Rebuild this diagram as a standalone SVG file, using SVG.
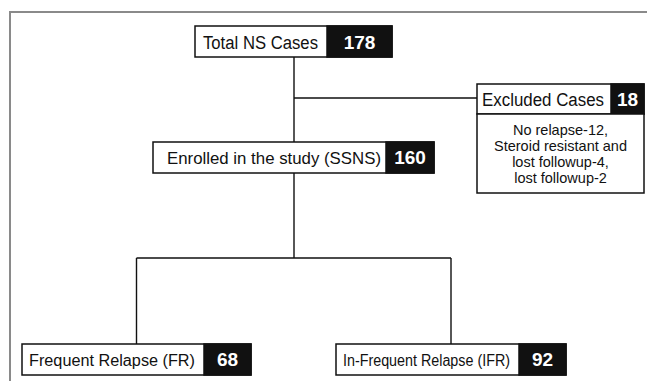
<svg xmlns="http://www.w3.org/2000/svg" width="647" height="381" viewBox="0 0 647 381">
<style>
.box{fill:#fff;stroke:#111;stroke-width:1.5}
.blk{fill:#111;stroke:#111;stroke-width:1.5}
.lbl{font-family:"Liberation Sans",Arial,sans-serif;font-size:18px;fill:#111}
.sm{font-size:16px}
.num{font-family:"Liberation Sans",Arial,sans-serif;font-size:19px;font-weight:bold;fill:#fff;text-anchor:middle}
.body{font-family:"Liberation Sans",Arial,sans-serif;font-size:14.5px;fill:#111;text-anchor:middle}
.conn{stroke:#111;stroke-width:1.4;fill:none}
.frame{stroke:#8a8a8a;stroke-width:2;fill:none}
</style>
<rect width="647" height="381" fill="#fff"/>
<path class="frame" d="M10,381 V12 H647"/>
<g id="connectors">
<path class="conn" d="M294,57 V142 M294,98 H477 M294,173 V258 M136.5,258 H451 M136.5,258 V344 M451,258 V344"/>
</g>
<g id="total">
<rect class="box" x="195" y="26" width="197" height="31"/>
<rect class="blk" x="327" y="26" width="65" height="31"/>
<text class="lbl" x="203" y="48.5" textLength="115" lengthAdjust="spacingAndGlyphs">Total NS Cases</text>
<text class="num" x="359.5" y="48.5">178</text>
</g>
<g id="excluded">
<rect class="box" x="477" y="84" width="167" height="30"/>
<rect class="blk" x="611" y="84" width="33" height="30"/>
<rect class="box" x="477" y="114" width="167" height="79"/>
<text class="lbl" x="482" y="106" textLength="122" lengthAdjust="spacingAndGlyphs">Excluded Cases</text>
<text class="num" x="627.5" y="106">18</text>
<text class="body" x="560.5" y="135">No relapse-12,</text>
<text class="body" x="560.5" y="151">Steroid resistant and</text>
<text class="body" x="560.5" y="167">lost followup-4,</text>
<text class="body" x="560.5" y="183">lost followup-2</text>
</g>
<g id="enrolled">
<rect class="box" x="153" y="142" width="281" height="31"/>
<rect class="blk" x="386" y="142" width="48" height="31"/>
<text class="lbl" x="167" y="164" style="font-size:17px" textLength="214" lengthAdjust="spacingAndGlyphs">Enrolled in the study (SSNS)</text>
<text class="num" x="410" y="164">160</text>
</g>
<g id="fr">
<rect class="box" x="22" y="344" width="229" height="31"/>
<rect class="blk" x="204" y="344" width="47" height="31"/>
<text class="lbl sm" x="29" y="366" textLength="166" lengthAdjust="spacingAndGlyphs">Frequent Relapse (FR)</text>
<text class="num" x="227.5" y="366">68</text>
</g>
<g id="ifr">
<rect class="box" x="336" y="344" width="230" height="31"/>
<rect class="blk" x="519" y="344" width="47" height="31"/>
<text class="lbl sm" x="343" y="366" textLength="167" lengthAdjust="spacingAndGlyphs">In-Frequent Relapse (IFR)</text>
<text class="num" x="542.5" y="366">92</text>
</g>
</svg>
